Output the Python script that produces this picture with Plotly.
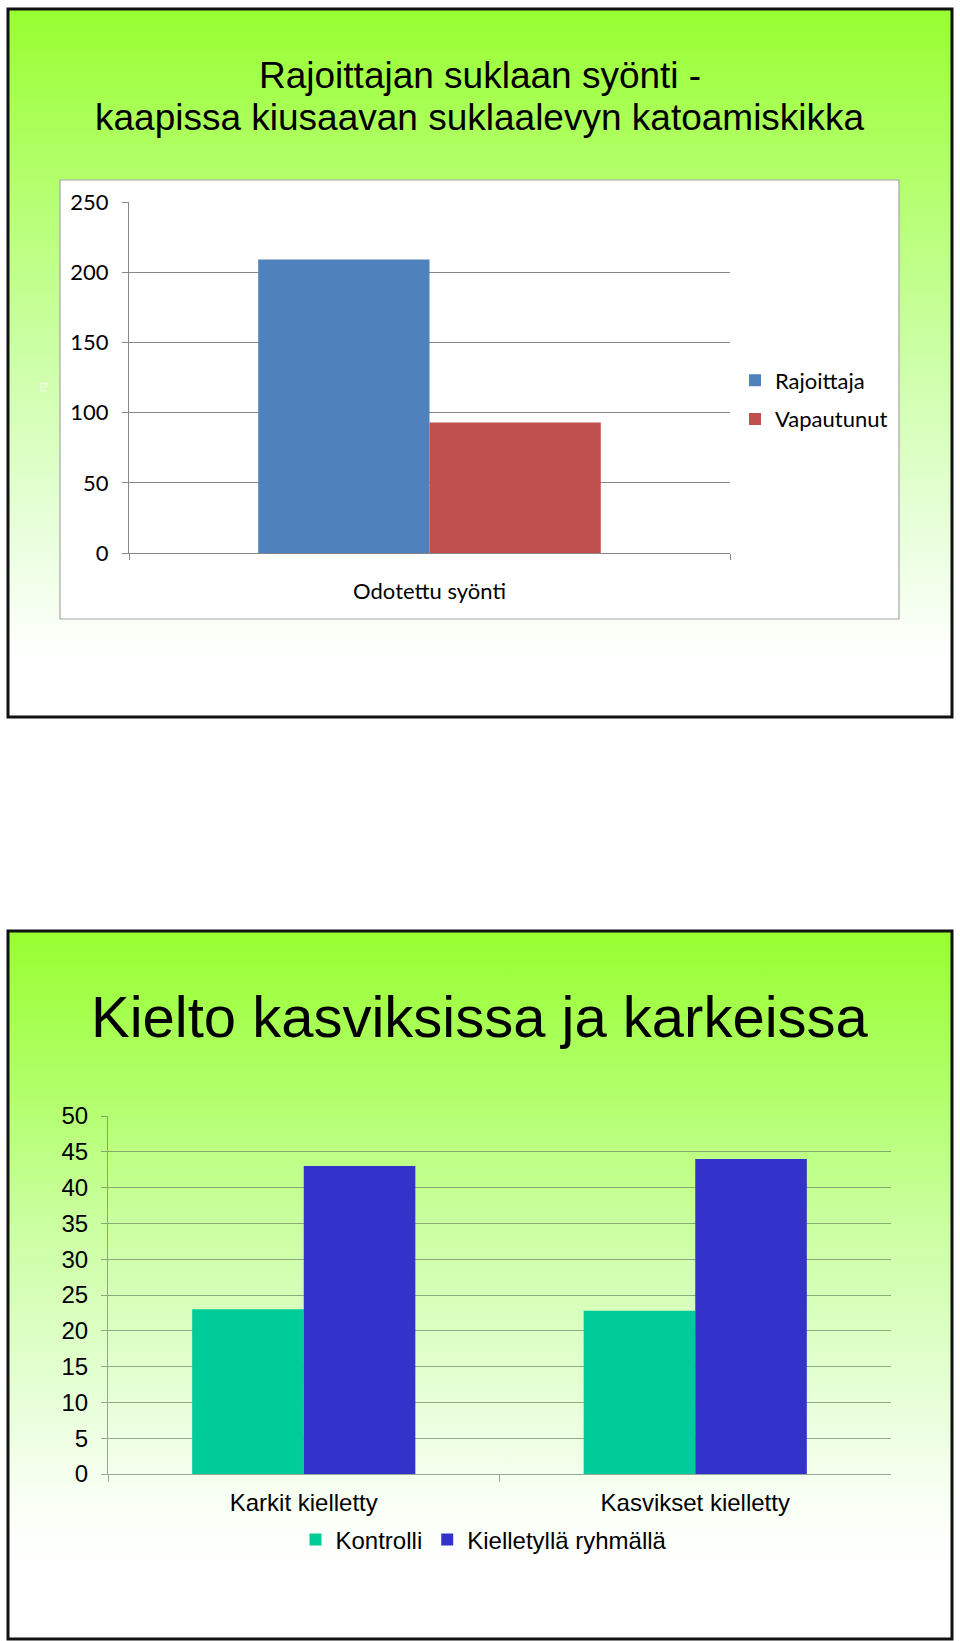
import base64
import plotly.graph_objects as go

W, H = 960, 1641

# ---------------- data ----------------
top_title_1 = "Rajoittajan suklaan syönti -"
top_title_2 = "kaapissa kiusaavan suklaalevyn katoamiskikka"
top_categories = ["Odotettu syönti"]
top_series = ["Rajoittaja", "Vapautunut"]
top_rajoittaja = [209]
top_vapautunut = [93]
top_ticks = [0, 50, 100, 150, 200, 250]

bot_title = "Kielto kasviksissa ja karkeissa"
bot_categories = ["Karkit kielletty", "Kasvikset kielletty"]
bot_series = ["Kontrolli", "Kielletyllä ryhmällä"]
bot_kontrolli = [23, 22.8]
bot_kielletty = [43, 44]
bot_ticks = [0, 5, 10, 15, 20, 25, 30, 35, 40, 45, 50]

# ---------------- helpers ----------------
def px(x):
    return x / W

def py(y):
    return 1 - y / H

def gradient_uri(stops):
    st = "".join(f'<stop offset="{o}" stop-color="{c}"/>' for o, c in stops)
    svg = ('<svg xmlns="http://www.w3.org/2000/svg" width="100" height="100" '
           'preserveAspectRatio="none"><defs><linearGradient id="g" x1="0" y1="0" '
           f'x2="0" y2="1">{st}</linearGradient></defs>'
           '<rect width="100" height="100" fill="url(#g)"/></svg>')
    return "data:image/svg+xml;base64," + base64.b64encode(svg.encode()).decode()

fig = go.Figure()

# top chart bars
fig.add_trace(go.Bar(x=top_categories, y=top_rajoittaja, name=top_series[0],
                     marker=dict(color="#4F81BD", line=dict(width=0)),
                     xaxis="x", yaxis="y", legend="legend", legendgroup="a"))
fig.add_trace(go.Bar(x=top_categories, y=top_vapautunut, name=top_series[1],
                     marker=dict(color="#C0504D", line=dict(width=0)),
                     xaxis="x", yaxis="y", legend="legend", legendgroup="b"))

# bottom chart bars
fig.add_trace(go.Bar(x=bot_categories, y=bot_kontrolli, name=bot_series[0],
                     marker=dict(color="#00CC99", line=dict(width=0)),
                     xaxis="x2", yaxis="y2", legend="legend2"))
fig.add_trace(go.Bar(x=bot_categories, y=bot_kielletty, name=bot_series[1],
                     marker=dict(color="#3333CC", line=dict(width=0)),
                     xaxis="x2", yaxis="y2", legend="legend2"))

top_font = "Lato, 'Open Sans', sans-serif"
arial = "'Liberation Sans', Arial, sans-serif"
grid_top = "#878787"
grid_bot = "rgba(100,125,95,0.65)"

# panel backgrounds (gradients)
top_grad = gradient_uri([(0, "#98FF30"), (0.25, "#B4FF6E"), (0.5, "#CDFFA8"),
                         (0.75, "#EAFFDE"), (0.92, "#FFFFFF"), (1, "#FFFFFF")])
bot_grad = gradient_uri([(0, "#98FF30"), (0.22, "#B0FF68"), (0.42, "#CBFFA2"),
                         (0.62, "#E2FFCF"), (0.8, "#F8FFF4"), (0.9, "#FFFFFF"), (1, "#FFFFFF")])

images = [
    dict(source=top_grad, xref="paper", yref="paper", x=px(7), y=py(8),
         sizex=px(953) - px(7), sizey=py(8) - py(718), sizing="stretch",
         xanchor="left", yanchor="top", layer="below"),
    dict(source=bot_grad, xref="paper", yref="paper", x=px(7), y=py(930),
         sizex=px(953) - px(7), sizey=py(930) - py(1640), sizing="stretch",
         xanchor="left", yanchor="top", layer="below"),
]

shapes = [
    # white chart box (top)
    dict(type="rect", xref="paper", yref="paper", x0=px(60), x1=px(899),
         y0=py(619), y1=py(180), fillcolor="white",
         line=dict(color="#A6A6A6", width=1.2), layer="below"),
    # outer panel frames
    dict(type="rect", xref="paper", yref="paper", x0=px(8), x1=px(952),
         y0=py(717), y1=py(9), line=dict(color="#111111", width=3),
         fillcolor="rgba(0,0,0,0)", layer="above"),
    dict(type="rect", xref="paper", yref="paper", x0=px(8), x1=px(952),
         y0=py(1639), y1=py(931), line=dict(color="#111111", width=3),
         fillcolor="rgba(0,0,0,0)", layer="above"),
]

annotations = [
    dict(text=top_title_1, xref="paper", yref="paper", x=px(480), y=py(75),
         xanchor="center", yanchor="middle", showarrow=False,
         font=dict(family=arial, size=37, color="black")),
    dict(text=top_title_2, xref="paper", yref="paper", x=px(480), y=py(117),
         xanchor="center", yanchor="middle", showarrow=False,
         font=dict(family=arial, size=37, color="black")),
    dict(text=bot_title, xref="paper", yref="paper", x=px(480), y=py(1016),
         xanchor="center", yanchor="middle", showarrow=False,
         font=dict(family=arial, size=58, color="black")),
    dict(text="rg", xref="paper", yref="paper", x=px(42), y=py(387),
         xanchor="center", yanchor="middle", showarrow=False, textangle=-90,
         font=dict(family=arial, size=11, color="rgba(255,255,255,0.85)")),
]

fig.update_layout(
    width=W, height=H,
    margin=dict(l=0, r=0, t=0, b=0, autoexpand=False),
    paper_bgcolor="white",
    plot_bgcolor="rgba(0,0,0,0)",
    barmode="group", bargap=0.43, bargroupgap=0,
    images=images, shapes=shapes, annotations=annotations,
    xaxis=dict(domain=[px(129), px(730)], anchor="y", type="category",
               tickson="boundaries", ticks="outside", ticklen=6,
               tickcolor=grid_top, showline=True, linecolor=grid_top, linewidth=1,
               showgrid=False, tickfont=dict(family=top_font, size=22, color="black"),
               ticklabelstandoff=19, automargin=False, fixedrange=True),
    yaxis=dict(domain=[py(553), py(202)], anchor="x", range=[0, 250],
               tickvals=top_ticks, ticks="outside", ticklen=6, tickcolor=grid_top,
               showline=True, linecolor=grid_top, linewidth=1,
               showgrid=True, gridcolor=grid_top, gridwidth=1, zeroline=False,
               tickfont=dict(family=top_font, size=22, color="black"),
               ticklabelstandoff=9, automargin=False, fixedrange=True),
    xaxis2=dict(domain=[px(108), px(891)], anchor="y2", type="category",
                tickson="boundaries", ticks="outside", ticklen=7,
                tickcolor=grid_bot, showline=True, linecolor=grid_bot, linewidth=1,
                showgrid=False, tickfont=dict(family=arial, size=24, color="black"),
                ticklabelstandoff=7, automargin=False, fixedrange=True),
    yaxis2=dict(domain=[py(1474), py(1116)], anchor="x2", range=[0, 50],
                tickvals=bot_ticks, ticks="outside", ticklen=6, tickcolor=grid_bot,
                showline=True, linecolor=grid_bot, linewidth=1,
                showgrid=True, gridcolor=grid_bot, gridwidth=1, zeroline=False,
                tickfont=dict(family=arial, size=24, color="black"),
                ticklabelstandoff=8, automargin=False, fixedrange=True),
    legend=dict(x=px(735), y=py(400), xanchor="left", yanchor="middle",
                orientation="v", bgcolor="rgba(0,0,0,0)",
                font=dict(family=top_font, size=22, color="black"),
                itemwidth=30, tracegroupgap=7),
    legend2=dict(x=px(484), y=py(1540), xanchor="center", yanchor="middle",
                 orientation="h", bgcolor="rgba(0,0,0,0)",
                 font=dict(family=arial, size=24, color="black"),
                 itemwidth=30),
    showlegend=True,
)

fig.write_html("out.html")
